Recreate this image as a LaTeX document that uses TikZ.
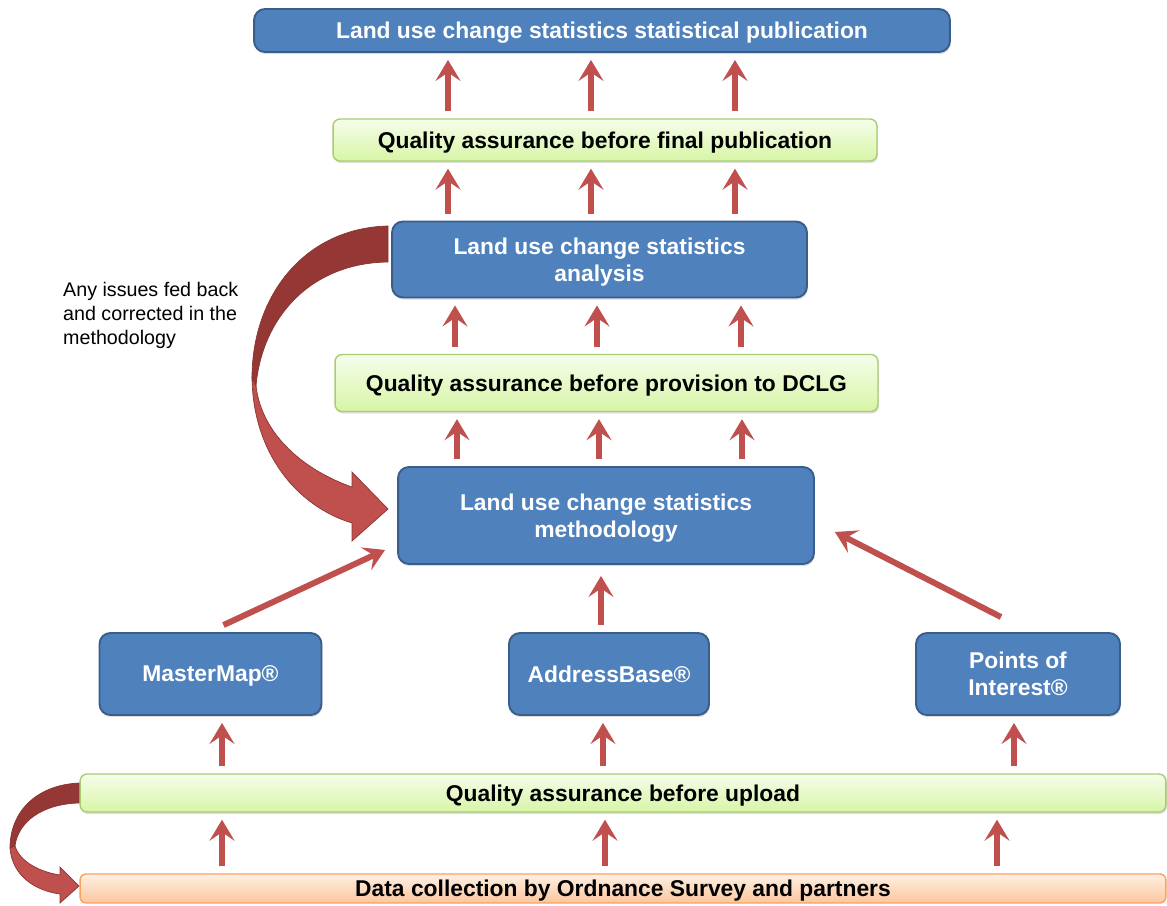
\documentclass[tikz,border=0pt]{standalone}
\usepackage{fontspec}
\setmainfont{Liberation Sans}
\usepackage{xcolor}
\usetikzlibrary{arrows.meta,shadows}

\definecolor{cajaazul}{HTML}{4F81BD}
\definecolor{bordeazul}{HTML}{3A5E8B}
\definecolor{flecharoja}{HTML}{C0504D}
\definecolor{cintaoscura}{HTML}{953735}
\definecolor{bordecinta}{HTML}{8A3533}
\definecolor{verdearriba}{HTML}{F6FDEB}
\definecolor{verdeabajo}{HTML}{D7F5A6}
\definecolor{bordeverde}{HTML}{A9CC72}
\definecolor{naranjaarriba}{HTML}{FEF0E4}
\definecolor{naranjaabajo}{HTML}{FBC69B}
\definecolor{bordenaranja}{HTML}{F7A262}

\begin{document}
\begin{tikzpicture}[x=0.02cm, y=-0.02cm,
    caja/.style={draw=bordeazul, line width=1.1pt, fill=cajaazul, rounded corners=0.22cm,
        text=white, align=center, text depth=0pt, font=\bfseries\fontsize{13}{15.3}\selectfont,
        drop shadow={shadow xshift=0.5pt, shadow yshift=-1.2pt, opacity=0.25}},
    control/.style={draw=bordeverde, line width=0.8pt, top color=verdearriba, bottom color=verdeabajo,
        rounded corners=0.14cm, text depth=0pt, font=\bfseries\fontsize{13}{15.3}\selectfont,
        drop shadow={shadow xshift=0.5pt, shadow yshift=-1.2pt, opacity=0.25}},
    fuente/.style={draw=bordenaranja, line width=0.8pt, top color=naranjaarriba, bottom color=naranjaabajo,
        rounded corners=0.12cm, text depth=0pt, font=\bfseries\fontsize{13}{15.3}\selectfont},
    subida/.style={draw=flecharoja, line width=0.12cm,
        -{Stealth[length=0.42cm, width=0.5cm, inset=0.17cm]},
        shorten >=0.14cm, shorten <=0.14cm}]

    % Marco de la figura
    \useasboundingbox (0,0) rectangle (1167,906);

    % Cajas principales
    \node[caja, minimum width=13.92cm, minimum height=0.86cm] (pub) at (602,30.5)
        {Land use change statistics statistical publication};
    \node[control, minimum width=10.88cm, minimum height=0.84cm] (qaf) at (605,140)
        {Quality assurance before final publication};
    \node[caja, minimum width=8.3cm, minimum height=1.52cm] (ana) at (599.5,259.5)
        {Land use change statistics\\analysis};
    \node[control, minimum width=10.86cm, minimum height=1.14cm] (qad) at (606.5,383)
        {Quality assurance before provision to DCLG};
    \node[caja, minimum width=8.32cm, minimum height=1.94cm] (met) at (606,515.5)
        {Land use change statistics\\methodology};

    % Fuentes de datos
    \node[caja, minimum width=4.44cm, minimum height=1.64cm] (mm) at (210.5,674) {MasterMap®};
    \node[caja, minimum width=4.0cm, minimum height=1.64cm] (ab) at (609,674) {AddressBase®};
    \node[caja, minimum width=4.08cm, minimum height=1.64cm] (poi) at (1018,674) {Points of\\Interest®};

    % Barras inferiores
    \node[control, minimum width=21.72cm, minimum height=0.76cm] (qau) at (623,793)
        {Quality assurance before upload};
    \node[fuente, minimum width=21.72cm, minimum height=0.58cm] (col) at (623,888.5)
        {Data collection by Ordnance Survey and partners};

    % Flechas verticales
    \foreach \x in {448,591,735}
        \draw[subida] (\x,0 |- qaf.north) -- (\x,0 |- pub.south);
    \foreach \x in {448,591,735}
        \draw[subida] (\x,0 |- ana.north) -- (\x,0 |- qaf.south);
    \foreach \x in {455,597,741}
        \draw[subida] (\x,0 |- qad.north) -- (\x,0 |- ana.south);
    \foreach \x in {457,599,742}
        \draw[subida] (\x,0 |- met.north) -- (\x,0 |- qad.south);
    \draw[subida, shorten >=0.22cm] (601,0 |- ab.north) -- (601,0 |- met.south);
    \draw[subida] (222,0 |- qau.north) -- (222,0 |- mm.south);
    \draw[subida] (603,0 |- qau.north) -- (603,0 |- ab.south);
    \draw[subida] (1014,0 |- qau.north) -- (1014,0 |- poi.south);
    \foreach \x in {222,605,997}
        \draw[subida] (\x,0 |- col.north) -- (\x,0 |- qau.south);

    % Flechas diagonales hacia la metodologia
    \draw[subida, shorten >=0pt, shorten <=0pt]
        ([xshift=0.26cm, yshift=0.14cm]mm.north) -- ([xshift=-0.24cm, yshift=0.3cm]met.south west);
    \draw[subida, shorten >=0pt, shorten <=0pt]
        ([xshift=-0.34cm, yshift=0.3cm]poi.north) -- ([xshift=0.4cm, yshift=-0.33cm]met.east);

    % Cinta curva grande (analisis -> metodologia)
    \filldraw[fill=cintaoscura, draw=bordecinta, line width=0.4pt]
        (388,226) .. controls (305,228) and (252,295) .. (252,378)
        -- (256,386) .. controls (262,318) and (310,263) .. (388,262) -- cycle;
    \filldraw[fill=flecharoja, draw=bordecinta, line width=0.4pt]
        (252,378) .. controls (253,452) and (296,506) .. (352,523)
        -- (352,541) -- (388,509) -- (352,472) -- (352,487)
        .. controls (306,471) and (262,436) .. (256,386) -- cycle;

    % Cinta curva chica (carga -> recoleccion)
    \filldraw[fill=cintaoscura, draw=bordecinta, line width=0.4pt]
        (79,783) .. controls (36,785) and (10,812) .. (10,848)
        -- (15,846) .. controls (18,822) and (42,804) .. (79,803) -- cycle;
    \filldraw[fill=flecharoja, draw=bordecinta, line width=0.4pt]
        (10,848) .. controls (12,876) and (36,891) .. (60,894)
        -- (60,903) -- (79,886) -- (60,867) -- (60,875)
        .. controls (40,872) and (20,862) .. (15,846) -- cycle;

    % Nota
    \node[anchor=north west, align=left, font=\fontsize{11.2}{13.6}\selectfont] (nota) at (57,276)
        {Any issues fed back\\and corrected in the\\methodology};

\end{tikzpicture}
\end{document}
